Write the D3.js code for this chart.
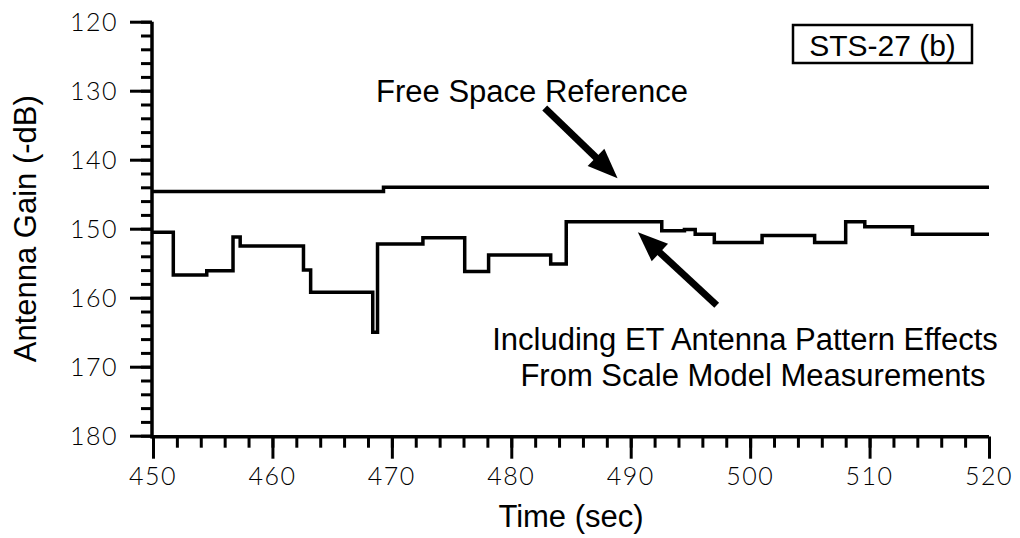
<!DOCTYPE html>
<html><head><meta charset="utf-8">
<script src="https://cdn.jsdelivr.net/npm/d3@7"></script>
<style>
body{margin:0;background:#fff;}
svg{display:block;}
.lbl{font-family:"Liberation Sans",Arial,sans-serif;fill:#000;}
.tk{font-family:Lato,"Open Sans",sans-serif;font-weight:300;fill:#000;}
</style></head>
<body>
<svg id="c" width="1020" height="538"></svg>
<script>
// ---- data ----
const stepTimes  = [450.0, 451.7, 454.5, 456.7, 457.3, 462.6, 463.2, 468.4, 468.8, 472.6, 476.1, 478.1, 483.3, 484.6, 492.6, 494.5, 495.4, 497.0, 501.0, 505.4, 508.0, 509.6, 513.6, 520.0];
const stepValues = [150.5, 156.7, 156.1, 151.2, 152.5, 156.0, 159.2, 165.0, 152.2, 151.3, 156.2, 153.8, 155.1, 149.0, 150.3, 150.1, 150.8, 152.0, 151.0, 152.0, 149.0, 149.7, 150.8, 150.8];
const freeTimes  = [450.0, 469.3, 520.0];
const freeValues = [144.6, 144.0, 144.0];
const xTickLabels = [450, 460, 470, 480, 490, 500, 510, 520];
const yTickLabels = [120, 130, 140, 150, 160, 170, 180];
const xMinorTicks = d3.range(450, 520.01, 2);
const yMinorTicks = d3.range(120, 180.01, 2);
const xTitle = "Time (sec)";
const yTitle = "Antenna Gain (-dB)";
const boxLabel = "STS-27 (b)";
const freeLabel = "Free Space Reference";
const stepLabel = ["Including ET Antenna Pattern Effects", "From Scale Model Measurements"];

const svg = d3.select("#c");
const x = d3.scaleLinear().domain([450, 520]).range([153, 989]);
const y = d3.scaleLinear().domain([120, 180]).range([21.7, 435.7]);

// minor ticks
svg.append("g").attr("transform", `translate(${x(450)-1},0)`)
  .call(d3.axisLeft(y).tickValues(yMinorTicks).tickSize(11).tickFormat(""))
  .call(g => g.selectAll("line").attr("stroke", "#000").attr("stroke-width", 3))
  .call(g => g.select(".domain").remove());
svg.append("g").attr("transform", `translate(0,${y(180)+1})`)
  .call(d3.axisBottom(x).tickValues(xMinorTicks).tickSize(11).tickFormat(""))
  .call(g => g.selectAll("line").attr("stroke", "#000").attr("stroke-width", 3))
  .call(g => g.select(".domain").remove());
// major ticks
svg.append("g").attr("transform", `translate(${x(450)-1},0)`)
  .call(d3.axisLeft(y).tickValues(yTickLabels).tickSize(22).tickFormat(""))
  .call(g => g.selectAll("line").attr("stroke", "#000").attr("stroke-width", 3))
  .call(g => g.select(".domain").remove());
svg.append("g").attr("transform", `translate(0,${y(180)+1})`)
  .call(d3.axisBottom(x).tickValues(xTickLabels).tickSize(22).tickFormat(""))
  .call(g => g.selectAll("line").attr("stroke", "#000").attr("stroke-width", 3))
  .call(g => g.select(".domain").remove());
// axis lines
svg.append("line").attr("x1", x(450)-1).attr("x2", x(450)-1).attr("y1", y(120)).attr("y2", y(180)+2.5)
  .attr("stroke", "#000").attr("stroke-width", 3.5);
svg.append("line").attr("x1", x(450)-2.5).attr("x2", x(520)).attr("y1", y(180)+1).attr("y2", y(180)+1)
  .attr("stroke", "#000").attr("stroke-width", 3.5);

// tick labels
svg.selectAll(".ylab").data(yTickLabels).enter().append("text")
  .attr("class", "tk").attr("x", 118).attr("y", d => y(d)).attr("dy", "0.36em")
  .attr("text-anchor", "end").attr("font-size", 25).attr("letter-spacing", 1.5).text(d => d);
svg.selectAll(".xlab").data(xTickLabels).enter().append("text")
  .attr("class", "tk").attr("x", d => x(d)).attr("y", 485)
  .attr("text-anchor", "middle").attr("font-size", 25).attr("letter-spacing", 1.5).text(d => d);

// titles
svg.append("text").attr("class", "lbl").attr("font-size", 31)
  .attr("transform", `translate(36,${(y(120)+y(180))/2}) rotate(-90)`)
  .attr("text-anchor", "middle").text(yTitle);
svg.append("text").attr("class", "lbl").attr("font-size", 31)
  .attr("x", (x(450)+x(520))/2).attr("y", 527).attr("text-anchor", "middle").text(xTitle);

// lines
const line = d3.line().x((d, i) => x(d[0])).y(d => y(d[1])).curve(d3.curveStepAfter);
svg.append("path").datum(freeTimes.map((t, i) => [t, freeValues[i]]))
  .attr("d", line).attr("fill", "none").attr("stroke", "#000").attr("stroke-width", 3.5);
svg.append("path").datum(stepTimes.map((t, i) => [t, stepValues[i]]))
  .attr("d", line).attr("fill", "none").attr("stroke", "#000").attr("stroke-width", 3.5)
  .attr("stroke-linejoin", "miter");

// label box
const bx = svg.append("g");
bx.append("rect").attr("x", 793).attr("y", 25).attr("width", 179).attr("height", 38)
  .attr("fill", "#fff").attr("stroke", "#000").attr("stroke-width", 2.5);
bx.append("text").attr("class", "lbl").attr("font-size", 30).attr("x", 882.5).attr("y", 56)
  .attr("text-anchor", "middle").text(boxLabel);

// annotations
svg.append("text").attr("class", "lbl").attr("font-size", 31).attr("x", 532).attr("y", 102)
  .attr("text-anchor", "middle").text(freeLabel);
svg.append("text").attr("class", "lbl").attr("font-size", 31).attr("x", 745).attr("y", 350)
  .attr("text-anchor", "middle").text(stepLabel[0]);
svg.append("text").attr("class", "lbl").attr("font-size", 31).attr("x", 753).attr("y", 386)
  .attr("text-anchor", "middle").text(stepLabel[1]);

function arrow(t0, v0, t1, v1) {
  const x0 = x(t0), y0 = y(v0), x1 = x(t1), y1 = y(v1);
  const dx = x1 - x0, dy = y1 - y0, L = Math.hypot(dx, dy);
  const ux = dx / L, uy = dy / L, px = -uy, py = ux;
  const hl = 30, hw = 12;
  const bxp = x1 - ux * hl, byp = y1 - uy * hl;
  svg.append("line").attr("x1", x0).attr("y1", y0).attr("x2", bxp + ux*2).attr("y2", byp + uy*2)
    .attr("stroke", "#000").attr("stroke-width", 7);
  svg.append("path").attr("d", `M${x1},${y1}L${bxp + px*hw},${byp + py*hw}L${bxp - px*hw},${byp - py*hw}Z`)
    .attr("fill", "#000");
}
arrow(482.8, 132.5, 488.9, 142.7);
arrow(497.2, 161.1, 490.6, 150.5);
</script>
</body></html>
